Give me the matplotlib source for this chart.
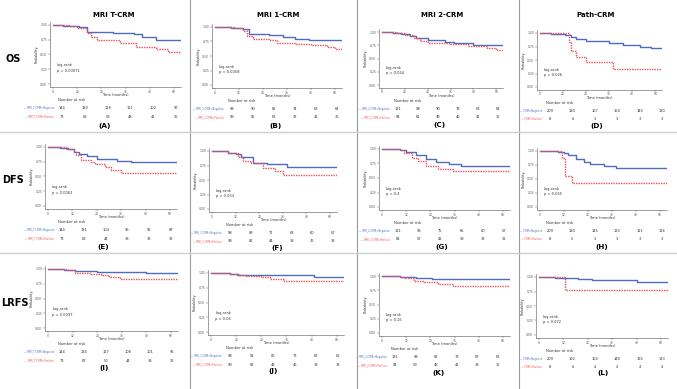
import matplotlib
matplotlib.use('Agg')
import matplotlib.pyplot as plt
from matplotlib.lines import Line2D
import numpy as np

# Survival curves (time in months, survival probability)
a_neg_t = [0, 5, 13, 17, 30, 40, 44, 51]
a_neg_s = [1.0, 0.99, 0.96, 0.88, 0.86, 0.84, 0.79, 0.75]
a_pos_t = [0, 8, 12, 17, 19, 22, 33, 41, 51, 57]
a_pos_s = [1.0, 0.98, 0.95, 0.86, 0.80, 0.75, 0.69, 0.63, 0.60, 0.55]

b_neg_t = [0, 8, 14, 17, 27, 34, 40, 47]
b_neg_s = [1.0, 0.99, 0.96, 0.88, 0.86, 0.83, 0.80, 0.77]
b_pos_t = [0, 10, 14, 16, 19, 27, 31, 40, 48, 56, 60]
b_pos_s = [1.0, 0.98, 0.93, 0.85, 0.80, 0.77, 0.73, 0.71, 0.69, 0.65, 0.62]

c_neg_t = [0, 6, 10, 15, 18, 24, 33, 38, 48]
c_neg_s = [1.0, 0.99, 0.97, 0.93, 0.88, 0.85, 0.82, 0.79, 0.76]
c_pos_t = [0, 8, 12, 17, 20, 24, 35, 45, 55, 60]
c_pos_s = [1.0, 0.98, 0.95, 0.88, 0.83, 0.80, 0.77, 0.74, 0.70, 0.66]

d_neg_t = [0, 6, 13, 16, 19, 24, 36, 43, 52, 58]
d_neg_s = [1.0, 0.99, 0.96, 0.92, 0.88, 0.85, 0.82, 0.78, 0.74, 0.72]
d_pos_t = [0, 15, 16, 19, 24, 38]
d_pos_s = [1.0, 0.83, 0.66, 0.56, 0.46, 0.33]

e_neg_t = [0, 6, 10, 13, 15, 19, 24, 34, 41]
e_neg_s = [1.0, 0.98, 0.97, 0.92, 0.88, 0.84, 0.80, 0.77, 0.75]
e_pos_t = [0, 9, 13, 14, 16, 21, 23, 28, 31, 36]
e_pos_s = [1.0, 0.97, 0.92, 0.86, 0.78, 0.74, 0.71, 0.66, 0.61, 0.56]

f_neg_t = [0, 8, 12, 15, 21, 28, 38]
f_neg_s = [1.0, 0.97, 0.94, 0.89, 0.80, 0.77, 0.73]
f_pos_t = [0, 8, 13, 16, 20, 26, 32, 36]
f_pos_s = [1.0, 0.97, 0.90, 0.83, 0.79, 0.71, 0.65, 0.59]

g_neg_t = [0, 9, 12, 17, 22, 27, 33, 39]
g_neg_s = [1.0, 0.98, 0.95, 0.90, 0.83, 0.77, 0.74, 0.70]
g_pos_t = [0, 9, 11, 15, 18, 22, 28, 35]
g_pos_s = [1.0, 0.98, 0.93, 0.85, 0.79, 0.71, 0.66, 0.62]

h_neg_t = [0, 9, 12, 14, 18, 22, 25, 32, 38]
h_neg_s = [1.0, 0.99, 0.97, 0.92, 0.85, 0.80, 0.77, 0.73, 0.70]
h_pos_t = [0, 11, 12.5, 16]
h_pos_s = [1.0, 0.875, 0.56, 0.42]

i_neg_t = [0, 8, 13, 24, 48]
i_neg_s = [1.0, 0.99, 0.96, 0.95, 0.94]
i_pos_t = [0, 9, 13, 21, 26, 30, 35]
i_pos_s = [1.0, 0.98, 0.93, 0.91, 0.89, 0.86, 0.83]

j_neg_t = [0, 9, 13, 19, 49]
j_neg_s = [1.0, 0.99, 0.97, 0.96, 0.94]
j_pos_t = [0, 9, 12, 16, 24, 28, 35]
j_pos_s = [1.0, 0.99, 0.97, 0.95, 0.93, 0.89, 0.86]

k_neg_t = [0, 9, 17, 25, 33]
k_neg_s = [1.0, 0.98, 0.97, 0.95, 0.94]
k_pos_t = [0, 9, 11, 16, 21, 28, 35]
k_pos_s = [1.0, 0.99, 0.96, 0.92, 0.89, 0.86, 0.83]

l_neg_t = [0, 8, 19, 26, 48]
l_neg_s = [1.0, 0.98, 0.96, 0.94, 0.92]
l_pos_t = [0, 13]
l_pos_s = [1.0, 0.78]

# Number at risk at 0, 12, 24, 36, 48, 60 months
a_neg_risk = [144, 130, 118, 111, 102, 97]
a_pos_risk = [73, 69, 53, 48, 41, 36]
b_neg_risk = [98, 90, 81, 74, 68, 64]
b_pos_risk = [99, 85, 62, 47, 41, 36]
c_neg_risk = [131, 98, 90, 78, 68, 64]
c_pos_risk = [84, 61, 49, 46, 41, 36]
d_neg_risk = [209, 180, 167, 150, 140, 130]
d_pos_risk = [8, 6, 3, 3, 3, 3]
e_neg_risk = [144, 131, 104, 95, 91, 87]
e_pos_risk = [73, 63, 44, 38, 33, 32]
f_neg_risk = [98, 88, 71, 63, 60, 57]
f_pos_risk = [99, 81, 44, 38, 36, 33]
g_neg_risk = [131, 93, 75, 65, 60, 57]
g_pos_risk = [84, 57, 42, 39, 33, 32]
h_neg_risk = [209, 180, 145, 133, 121, 116]
h_pos_risk = [8, 5, 3, 3, 3, 3]
i_neg_risk = [144, 134, 117, 108, 101, 95]
i_pos_risk = [73, 67, 50, 44, 38, 36]
j_neg_risk = [98, 91, 80, 73, 67, 62]
j_pos_risk = [99, 83, 48, 46, 38, 38]
k_neg_risk = [131, 98, 83, 73, 67, 62]
k_pos_risk = [84, 59, 48, 41, 38, 36]
l_neg_risk = [209, 192, 164, 148, 135, 133]
l_pos_risk = [8, 6, 4, 4, 4, 4]

p_values = ['p = 0.00071', 'p = 0.0058', 'p = 0.064', 'p = 0.026',
            'p = 0.0062', 'p = 0.053', 'p = 0.4', 'p = 0.065',
            'p = 0.0097', 'p = 0.06', 'p = 0.15', 'p = 0.072']
col_titles = ['MRI T-CRM', 'MRI 1-CRM', 'MRI 2-CRM', 'Path-CRM']
row_titles = ['OS', 'DFS', 'LRFS']
group_names = ['MRI_T-CRM', 'MRI_1-CRM', 'MRI_2-CRM', 'CRM']
panel_letters = ['(A)', '(B)', '(C)', '(D)', '(E)', '(F)', '(G)', '(H)',
                 '(I)', '(J)', '(K)', '(L)']
risk_times = [0, 12, 24, 36, 48, 60]

curves = [
    (a_neg_t, a_neg_s, a_pos_t, a_pos_s, a_neg_risk, a_pos_risk),
    (b_neg_t, b_neg_s, b_pos_t, b_pos_s, b_neg_risk, b_pos_risk),
    (c_neg_t, c_neg_s, c_pos_t, c_pos_s, c_neg_risk, c_pos_risk),
    (d_neg_t, d_neg_s, d_pos_t, d_pos_s, d_neg_risk, d_pos_risk),
    (e_neg_t, e_neg_s, e_pos_t, e_pos_s, e_neg_risk, e_pos_risk),
    (f_neg_t, f_neg_s, f_pos_t, f_pos_s, f_neg_risk, f_pos_risk),
    (g_neg_t, g_neg_s, g_pos_t, g_pos_s, g_neg_risk, g_pos_risk),
    (h_neg_t, h_neg_s, h_pos_t, h_pos_s, h_neg_risk, h_pos_risk),
    (i_neg_t, i_neg_s, i_pos_t, i_pos_s, i_neg_risk, i_pos_risk),
    (j_neg_t, j_neg_s, j_pos_t, j_pos_s, j_neg_risk, j_pos_risk),
    (k_neg_t, k_neg_s, k_pos_t, k_pos_s, k_neg_risk, k_pos_risk),
    (l_neg_t, l_neg_s, l_pos_t, l_pos_s, l_neg_risk, l_pos_risk),
]

# layout in pixels: axis left, right, y of 1.00, y of 0.00, risk x first, last, letter x, letter y
layout = [
    (50, 181, 25, 84, 62, 176, 105, 126),
    (212, 342, 27, 85, 232, 337, 275, 126),
    (379, 503, 32, 85, 398, 498, 439, 125),
    (537, 662, 33, 87, 550, 662, 597, 126),
    (45, 177, 147, 206, 62, 171, 103, 247),
    (209, 337, 151, 209, 230, 333, 277, 248),
    (379, 510, 149, 207, 398, 504, 442, 247),
    (537, 667, 151, 207, 550, 662, 602, 247),
    (45, 178, 269, 328, 62, 172, 104, 368),
    (208, 344, 273, 332, 230, 338, 273, 371),
    (379, 510, 276, 333, 395, 498, 439, 373),
    (536, 668, 277, 335, 550, 662, 603, 373),
]

W, H = 677, 389
blue = '#4f6cc0'
red = '#ef4f5a'

fig = plt.figure(figsize=(W / 100, H / 100), dpi=100)
fig.patch.set_facecolor('white')


def fx(px):
    return px / W


def fy(py):
    return 1 - py / H


for k in range(12):
    left, right, y1, y0, r0, r1, lx, ly = layout[k]
    nt, ns, pt, ps, nrisk, prisk = curves[k]
    h = y0 - y1
    top = y1 - 0.05 * h
    bot = y0 + 0.05 * h
    ax = fig.add_axes([fx(left), fy(bot), fx(right - left), (bot - top) / H])
    ax.step(nt + [63.5], ns + [ns[-1]], where='post', color=blue, lw=1.0)
    ax.step(pt + [63.5], ps + [ps[-1]], where='post', color=red, lw=1.0, ls=(0, (1, 0.8)))
    ax.set_xlim(-1.5, 63.5)
    ax.set_ylim(-0.05, 1.05)
    ax.set_xticks(risk_times)
    ax.set_yticks([0, 0.25, 0.5, 0.75, 1.0])
    ax.set_yticklabels(['0.00', '0.25', '0.50', '0.75', '1.00'])
    ax.tick_params(labelsize=2.2, length=1.2, width=0.3, pad=0.8, colors='#555555')
    for s in ['top', 'right']:
        ax.spines[s].set_visible(False)
    for s in ['left', 'bottom']:
        ax.spines[s].set_linewidth(0.4)
        ax.spines[s].set_color('#555555')
    ax.set_ylabel('Probability', fontsize=2.4, labelpad=1.5, color='#333333')
    ax.text(2, 0.30, 'Log-rank', fontsize=2.6, color='#333333')
    ax.text(2, 0.21, p_values[k], fontsize=2.6, color='#333333')

    cx = (left + right) / 2
    fig.text(fx(cx), fy(y0 + 11), 'Time (months)', fontsize=2.6, ha='center',
             va='center', color='#333333')
    fig.text(fx(r0 - 4), fy(y0 + 16), 'Number at risk', fontsize=2.6,
             va='center', color='#333333')
    xs = np.linspace(r0, r1, 6)
    g = group_names[k % 4]
    fig.text(fx(r0 - 8), fy(y0 + 24), '\u2014 ' + g + '=Negative', fontsize=1.8,
             ha='right', va='center', color=blue)
    fig.text(fx(r0 - 8), fy(y0 + 32.5), '\u2014 ' + g + '=Positive', fontsize=1.8,
             ha='right', va='center', color=red)
    for x, a, b in zip(xs, nrisk, prisk):
        fig.text(fx(x), fy(y0 + 24), str(a), fontsize=2.6, ha='center',
                 va='center', color='#333333')
        fig.text(fx(x), fy(y0 + 32.5), str(b), fontsize=2.6, ha='center',
                 va='center', color='#333333')
    fig.text(fx(lx), fy(ly), panel_letters[k], fontsize=5.2, fontweight='bold',
             ha='center', va='center')

# column titles
title_x = [114, 278, 442, 596]
for x, t in zip(title_x, col_titles):
    fig.text(fx(x), fy(15), t, fontsize=5, fontweight='bold', ha='center', va='center')

# row titles
row_y = [59, 180, 303]
row_x = [13, 13, 15]
for x, y, t in zip(row_x, row_y, row_titles):
    fig.text(fx(x), fy(y), t, fontsize=7, fontweight='bold', ha='center', va='center')

# separators
for x in [190, 357, 519]:
    fig.add_artist(Line2D([fx(x), fx(x)], [0, 1], color='#9a9a9a', lw=0.8))
for y in [132, 253]:
    fig.add_artist(Line2D([0, 1], [fy(y), fy(y)], color='#cfcfcf', lw=1.0))

fig.savefig('out.png', dpi=100, facecolor='white')
